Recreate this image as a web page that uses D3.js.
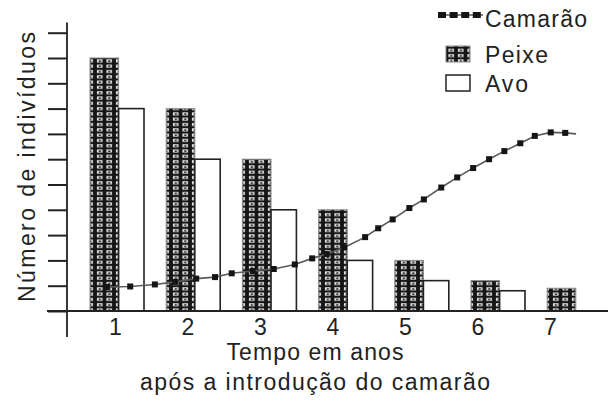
<!DOCTYPE html>
<html><head><meta charset="utf-8">
<script src="https://cdn.jsdelivr.net/npm/d3@7"></script>
<style>
body{margin:0;background:#fff}
svg{display:block}
text{font-family:"Liberation Sans",Arial,sans-serif;fill:#222}
</style>
</head><body><svg id="c" width="608" height="405"></svg>
<script>
// ---- data ----
const years = [1, 2, 3, 4, 5, 6, 7];
const peixe = [10, 8, 6, 4, 2, 1.2, 0.9];
const avo = [8, 6, 4, 2, 1.2, 0.8, null];
const camaraoT = [0.89, 1.21, 1.55, 1.83, 2.12, 2.38, 2.61, 2.90, 3.19, 3.48, 3.72, 3.92, 4.16, 4.45, 4.63, 4.83, 5.06, 5.26, 5.50, 5.72, 5.94, 6.16, 6.37, 6.59, 6.79, 7.01, 7.21, 7.36];
const camaraoV = [0.95, 0.97, 1.05, 1.15, 1.28, 1.34, 1.49, 1.58, 1.66, 1.84, 2.08, 2.25, 2.51, 2.92, 3.27, 3.62, 4.07, 4.41, 4.88, 5.28, 5.65, 6.00, 6.32, 6.63, 6.92, 7.06, 7.04, 7.00];
const yTickValues = [0, 1, 2, 3, 4, 5, 6, 7, 8, 9, 10, 11];
const seriesNames = ["Camarão", "Peixe", "Avo"];
const xTitle = ["Tempo em anos", "após a introdução do camarão"];
const yTitle = "Número de indivíduos";

// ---- layout ----
const svg = d3.select("#c");
const y = d3.scaleLinear().domain([0, 11]).range([311, 32.7]);
const xT = d3.scaleLinear().domain([1, 7]).range([115, 550]);
const xB = d3.scaleBand().domain(years).range([90, 601.2]).paddingInner(0.2913).paddingOuter(0);
const pFrac = 0.53;

// pattern for Peixe
const defs = svg.append("defs");
const pat = defs.append("pattern").attr("id", "peixePat")
  .attr("patternUnits", "userSpaceOnUse").attr("width", 9.5).attr("height", 5.3);
pat.append("rect").attr("width", 9.5).attr("height", 5.3).attr("fill", "#161616");
pat.append("rect").attr("x", 1.9).attr("y", 1.1).attr("width", 5.6).attr("height", 3.0).attr("fill", "#eeeeee");
pat.append("rect").attr("x", 3.6).attr("y", 2.0).attr("width", 2.4).attr("height", 1.5).attr("fill", "#2a2a2a");

// bars
const bw = xB.bandwidth();
svg.append("g").selectAll("rect").data(years.map((yr, i) => ({yr, v: peixe[i]})))
  .join("rect")
  .attr("x", d => xB(d.yr)).attr("width", bw * pFrac)
  .attr("y", d => y(d.v)).attr("height", d => y(0) - y(d.v))
  .attr("fill", "url(#peixePat)").attr("stroke", "#8a8a8a").attr("stroke-width", 1);

svg.append("g").selectAll("rect").data(years.map((yr, i) => ({yr, v: avo[i]})).filter(d => d.v != null))
  .join("rect")
  .attr("x", d => xB(d.yr) + bw * pFrac).attr("width", bw * (1 - pFrac))
  .attr("y", d => y(d.v)).attr("height", d => y(0) - y(d.v))
  .attr("fill", "#fff").attr("stroke", "#222").attr("stroke-width", 1.6);

// axes
const yAxis = svg.append("g").attr("transform", "translate(67,0)")
  .call(d3.axisLeft(y).tickValues(yTickValues).tickSize(19).tickFormat(""));
yAxis.select(".domain").remove();
yAxis.selectAll(".tick line").attr("stroke", "#222").attr("stroke-width", 2);

svg.append("line").attr("x1", 67).attr("x2", 67).attr("y1", y(11.4)).attr("y2", y(-1.03))
  .attr("stroke", "#222").attr("stroke-width", 1.8);
svg.append("line").attr("x1", 47).attr("x2", 608).attr("y1", y(0)).attr("y2", y(0))
  .attr("stroke", "#222").attr("stroke-width", 1.8);

const xAxis = svg.append("g").attr("transform", `translate(0,${y(0)})`)
  .call(d3.axisBottom(xT).tickValues(years).tickSize(0).tickPadding(8).tickFormat(d3.format("d")));
xAxis.select(".domain").remove();
xAxis.selectAll("text").attr("font-size", 23).attr("font-family", "Liberation Sans, Arial, sans-serif").attr("fill", "#222");

// camarão line
const cam = camaraoT.map((t, i) => ({t, v: camaraoV[i]}));
svg.append("path").datum(cam)
  .attr("d", d3.line().x(d => xT(d.t)).y(d => y(d.v)))
  .attr("fill", "none").attr("stroke", "#5a5a5a").attr("stroke-width", 1.6);
const ms = 6;
svg.append("g").selectAll("rect").data(cam.slice(0, cam.length - 1)).join("rect")
  .attr("x", d => xT(d.t) - ms / 2).attr("y", d => y(d.v) - ms / 2)
  .attr("width", ms).attr("height", ms).attr("fill", "#151515");

// titles
svg.append("text").attr("x", 315).attr("y", 360).attr("text-anchor", "middle")
  .attr("font-size", 23).attr("textLength", 177).attr("lengthAdjust", "spacing").text(xTitle[0]);
svg.append("text").attr("x", 315).attr("y", 390).attr("text-anchor", "middle")
  .attr("font-size", 23).attr("textLength", 350).attr("lengthAdjust", "spacing").text(xTitle[1]);
svg.append("text").attr("transform", "translate(35,167) rotate(-90)").attr("text-anchor", "middle")
  .attr("font-size", 23).attr("textLength", 270).attr("lengthAdjust", "spacing").text(yTitle);

// legend
const lg = svg.append("g");
lg.append("line").attr("x1", 438).attr("x2", 483).attr("y1", 15).attr("y2", 15)
  .attr("stroke", "#5a5a5a").attr("stroke-width", 1.6);
lg.selectAll("rect.m").data([0, 1, 2, 3]).join("rect").attr("class", "m")
  .attr("x", d => 438 + d * 11.6).attr("y", 12).attr("width", 8).attr("height", 6).attr("fill", "#151515");
lg.append("rect").attr("x", 446).attr("y", 46).attr("width", 24).attr("height", 16)
  .attr("fill", "url(#peixePat)").attr("stroke", "#8a8a8a").attr("stroke-width", 1);
lg.append("rect").attr("x", 446).attr("y", 75).attr("width", 24).attr("height", 16)
  .attr("fill", "#fff").attr("stroke", "#222").attr("stroke-width", 1.5);
const legY = [27, 63, 92];
const legW = [102, 63, 43];
seriesNames.forEach((n, i) => {
  lg.append("text").attr("x", 485).attr("y", legY[i]).attr("font-size", 23)
    .attr("textLength", legW[i]).attr("lengthAdjust", "spacing").text(n);
});
</script>
</body></html>
